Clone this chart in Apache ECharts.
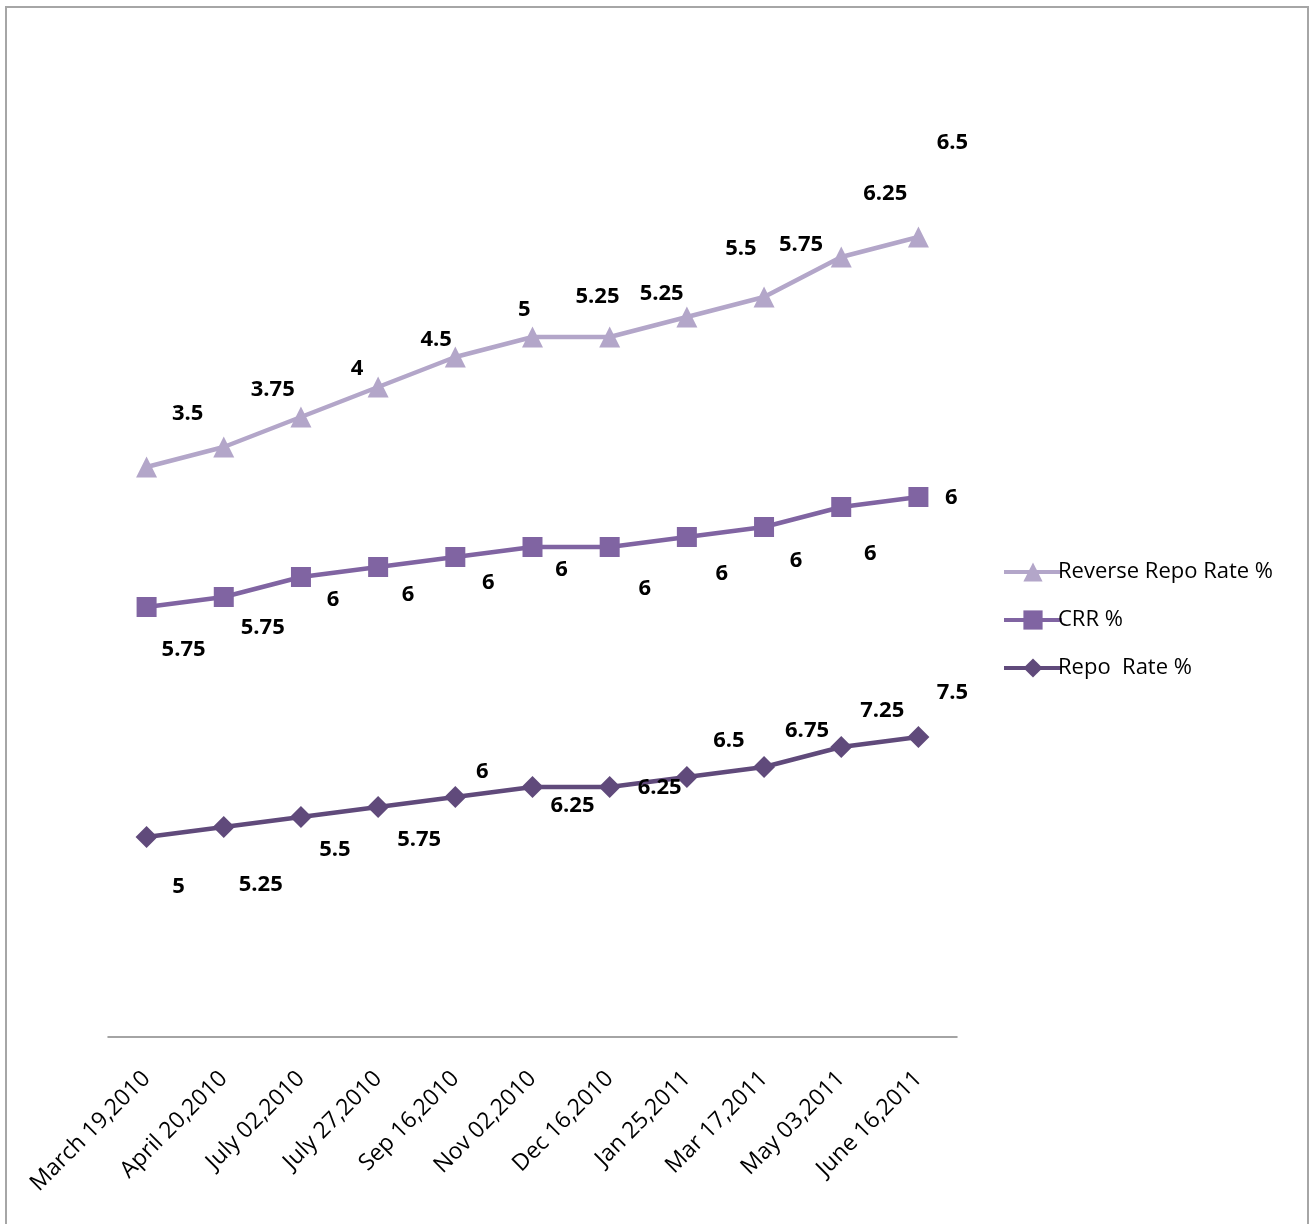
<!DOCTYPE html>
<html>
<head>
<meta charset="utf-8">
<script src="https://cdn.jsdelivr.net/npm/echarts@6/dist/echarts.min.js"></script>
<style>
  html, body { margin: 0; padding: 0; background: #fff; overflow: hidden; }
  #frame { position: absolute; left: 5px; top: 6px; width: 1304px; height: 1240px; border: 2px solid #a6a6a6; box-sizing: border-box; }
  #container { position: absolute; left: 0; top: 0; width: 1313px; height: 1224px; }
</style>
</head>
<body>
<div id="frame"></div>
<div id="container"></div>
<script>
// x categories
var dates = ['March 19,2010', 'April 20,2010', 'July 02,2010', 'July 27,2010', 'Sep 16,2010',
    'Nov 02,2010', 'Dec 16,2010', 'Jan 25,2011', 'Mar 17,2011', 'May 03,2011', 'June 16,2011'];
// series values (stacked like the original Excel chart)
var repoRate = [5, 5.25, 5.5, 5.75, 6, 6.25, 6.25, 6.5, 6.75, 7.25, 7.5];
var crr = [5.75, 5.75, 6, 6, 6, 6, 6, 6, 6, 6, 6];
var reverseRepo = [3.5, 3.75, 4, 4.5, 5, 5.25, 5.25, 5.5, 5.75, 6.25, 6.5];

// label nudges (Excel placed the labels a bit all over the place)
var repoNudge = [[32,50],[37,58],[34,33],[41,33],[27,-25],[40,19],[50,1],[42,-36],[43,-36],[41,-36],[34,-44]];
var crrNudge = [[37,43],[39,31],[32,23],[30,28],[33,26],[29,23],[35,42],[35,37],[32,34],[29,47],[33,1]];
var revNudge = [[41,-53],[49,-57],[56,-48],[58,-47],[69,-47],[65,-40],[52,-43],[54,-68],[37,-52],[44,-63],[34,-94]];

function withLabels(vals, nudge) {
    var res = [];
    for (var i = 0; i < vals.length; i++) {
        res.push({ value: vals[i], label: { offset: nudge[i] } });
    }
    return res;
}

var labelStyle = {
    show: true,
    position: 'inside',
    align: 'center',
    verticalAlign: 'middle',
    color: '#000',
    fontFamily: 'Open Sans',
    fontWeight: 'bold',
    fontSize: 22
};

var myChart = echarts.init(document.getElementById('container'));
var option = {
    animation: false,
    backgroundColor: 'transparent',
    grid: { left: 108, right: 356, top: 37, bottom: 187, containLabel: false },
    legend: {
        orient: 'vertical',
        left: 997,
        top: 556,
        itemWidth: 58,
        itemHeight: 24,
        itemGap: 26,
        lineStyle: { width: 4 },
        data: ['Reverse Repo Rate %', 'CRR %', 'Repo  Rate %'],
        textStyle: { color: '#000', fontFamily: 'Open Sans', fontSize: 22, lineHeight: 20, padding: [0, 0, 0, -9] }
    },
    xAxis: {
        type: 'category',
        data: dates,
        boundaryGap: true,
        axisLine: { lineStyle: { color: '#868686', width: 1.5 } },
        axisTick: { show: false },
        axisLabel: {
            rotate: 45,
            interval: 0,
            margin: 38,
            color: '#000',
            fontFamily: 'Open Sans',
            fontSize: 23
        }
    },
    yAxis: {
        type: 'value',
        min: 0,
        max: 25,
        show: false,
        splitLine: { show: false }
    },
    series: [
        {
            name: 'Repo  Rate %',
            type: 'line',
            stack: 'total',
            data: withLabels(repoRate, repoNudge),
            symbol: 'diamond',
            symbolSize: 22,
            lineStyle: { width: 4.5, color: '#604a7b' },
            itemStyle: { color: '#604a7b' },
            label: labelStyle
        },
        {
            name: 'CRR %',
            type: 'line',
            stack: 'total',
            data: withLabels(crr, crrNudge),
            symbol: 'rect',
            symbolSize: 20,
            lineStyle: { width: 4.5, color: '#8064a2' },
            itemStyle: { color: '#8064a2' },
            label: labelStyle
        },
        {
            name: 'Reverse Repo Rate %',
            type: 'line',
            stack: 'total',
            data: withLabels(reverseRepo, revNudge),
            symbol: 'triangle',
            symbolSize: 21,
            lineStyle: { width: 4.5, color: '#b3a6c9' },
            itemStyle: { color: '#b3a6c9' },
            label: labelStyle
        }
    ]
};
myChart.setOption(option);
</script>
</body>
</html>
